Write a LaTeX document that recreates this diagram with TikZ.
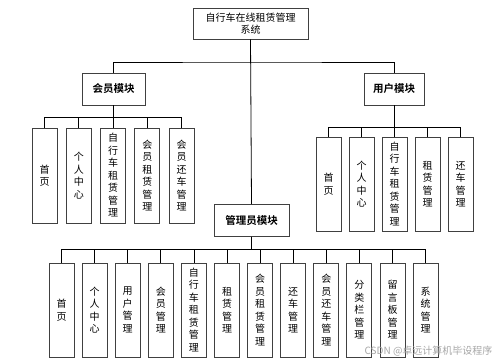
\documentclass[tikz,border=0pt]{standalone}
\usepackage{fontspec}
\setmainfont{Noto Sans CJK SC}[BoldFont={Noto Sans CJK SC Bold}]
\usepackage{tikz}
\usetikzlibrary{positioning}

\begin{document}
\begin{tikzpicture}[
  x=1pt, y=-1pt,
  font=\fontsize{10}{12.5}\selectfont,
  box/.style={draw=black!75, line width=0.9pt, inner sep=0pt, align=center},
  sysbox/.style={box, minimum width=115pt, minimum height=31pt},
  modbox/.style={box, minimum height=32pt, font=\fontsize{10.5}{12}\selectfont\bfseries},
  leaf/.style={box, minimum width=25pt, minimum height=94pt},
  link/.style={draw=black, line width=0.8pt},
]
\useasboundingbox (0,0) rectangle (500,362);

% system
\node[sysbox] (sys) at (250.5,23.5) {自行车在线租赁管理\\系统};

% modules
\node[modbox, minimum width=63pt] (member) at (113.5,89) {会员模块};
\node[modbox, minimum width=60pt] (user) at (394,89) {用户模块};
\node[modbox, minimum width=75pt] (admin) at (251.5,220.5) {管理员模块};

% links from system to modules
\coordinate (mainbus) at (sys.south |- 0,62);
\draw[link] (sys.south) -- (admin.north);
\draw[link] (member.north) |- (mainbus) -| (user.north);

% member leaves
\foreach \lab [count=\i] in {{首\\页}, {个\\人\\中\\心}, {自\\行\\车\\租\\赁\\管\\理},
    {会\\员\\租\\赁\\管\\理}, {会\\员\\还\\车\\管\\理}}
  \node[leaf, minimum height=95pt] (m\i) at ({44.5+34.25*(\i-1)},175.5) {\lab};
\foreach \i in {1,...,5}
  \draw[link] (member.south) -- ++(0,12) -| (m\i.north);

% user leaves
\foreach \lab [count=\i] in {{首\\页}, {个\\人\\中\\心}, {自\\行\\车\\租\\赁\\管\\理},
    {租\\赁\\管\\理}, {还\\车\\管\\理}}
  \node[leaf] (u\i) at ({328.5+33*(\i-1)},184) {\lab};
\foreach \i in {1,...,5}
  \draw[link] (user.south) -- ++(0,22) -| (u\i.north);

% admin leaves
\foreach \lab [count=\i] in {{首\\页}, {个\\人\\中\\心}, {用\\户\\管\\理}, {会\\员\\管\\理},
    {自\\行\\车\\租\\赁\\管\\理}, {租\\赁\\管\\理}, {会\\员\\租\\赁\\管\\理}, {还\\车\\管\\理},
    {会\\员\\还\\车\\管\\理}, {分\\类\\栏\\管\\理}, {留\\言\\板\\管\\理}, {系\\统\\管\\理}}
  \node[leaf] (a\i) at ({61.5+33.1*(\i-1)},310) {\lab};
\foreach \i in {1,...,12}
  \draw[link] (admin.south) -- ++(0,12) -| (a\i.north);

% watermark
\node[anchor=east, text=black!35, font=\fontsize{10}{12}\selectfont] (mark) at (496,351) {CSDN @卓远计算机毕设程序};
\end{tikzpicture}
\end{document}
